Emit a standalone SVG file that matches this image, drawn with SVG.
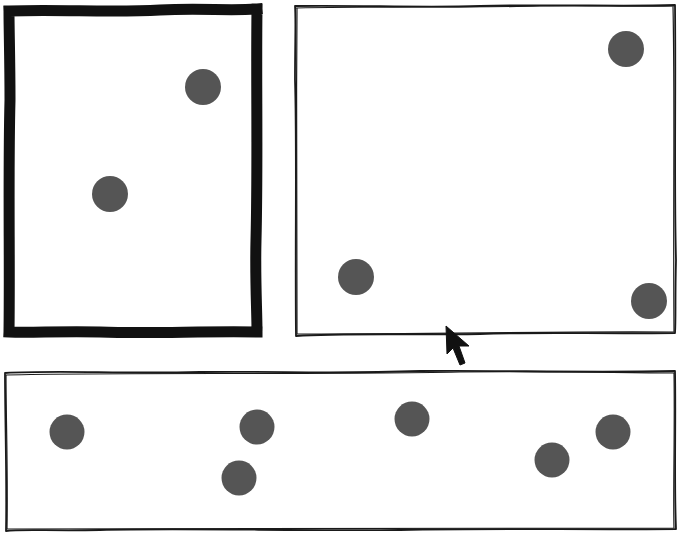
<svg xmlns="http://www.w3.org/2000/svg" width="677" height="536" viewBox="0 0 677 536">
<style>
.thin{fill:none;stroke:#1a1a1a;stroke-width:1.8;stroke-linejoin:round;stroke-linecap:round}
.thin2{fill:none;stroke:#1a1a1a;stroke-width:1.2;stroke-linejoin:round;stroke-linecap:round}
.thick{fill:none;stroke:#111;stroke-width:11;stroke-linejoin:miter;stroke-linecap:square}
.dot{fill:#555}
</style>
<rect width="677" height="536" fill="#fff"/>
<g id="panel-left">
<path class="thick" d="M9,11 C60,9 110,13 160,10 C200,8 230,11 257,9 M257,9 C256,80 258,160 256,240 C255,280 257,310 257,332 M257,332 C200,331 150,334 100,332 C60,331 30,333 9,332 M9,332 C10,260 8,180 10,100 C10,60 9,30 9,11"/>
<circle class="dot" cx="203" cy="87" r="18"/>
<circle class="dot" cx="110" cy="194" r="18"/>
</g>
<g id="panel-right">
<path class="thin" d="M295,6 C360,5 420,8 480,6 C560,4 620,7 675,5 M675,5 C676,90 674,180 676,260 C675,300 676,320 675,333 M675,333 C600,334 540,332 480,334 C400,335 340,333 296,336 M296,336 C295,250 297,150 295,80 C295,40 296,20 295,6"/>
<path class="thin2" d="M296,8 C370,6 450,8 540,6 C600,5 640,7 674,6 M673,6 C675,100 673,200 674,331 M674,332 C560,331 450,334 297,334 M297,334 C297,240 296,120 297,8"/>
<circle class="dot" cx="626" cy="49" r="18"/>
<circle class="dot" cx="356" cy="277" r="18"/>
<circle class="dot" cx="649" cy="301" r="18"/>
</g>
<g id="panel-bottom">
<path class="thin" d="M5,373 C60,370 120,374 200,372 C280,371 330,374 420,371 C500,370 580,373 675,371 M675,371 C676,420 674,480 676,529 M676,529 C580,530 500,528 400,530 C300,531 180,528 100,530 C50,531 20,529 6,531 M6,531 C7,480 5,420 5,373"/>
<path class="thin2" d="M6,375 C120,372 300,375 460,372 C560,371 620,373 674,373 M674,373 C675,430 673,490 674,528 M674,528 C500,527 300,530 7,529 M7,529 C8,470 6,420 6,375"/>
<circle class="dot" cx="67" cy="432" r="17.5"/>
<circle class="dot" cx="257" cy="427" r="17.5"/>
<circle class="dot" cx="239" cy="478" r="17.5"/>
<circle class="dot" cx="412" cy="419" r="17.5"/>
<circle class="dot" cx="552" cy="460" r="17.5"/>
<circle class="dot" cx="613" cy="432" r="17.5"/>
</g>
<g id="cursor">
<polygon points="446,326 447,354 453,348 460,365 465,363 459,346 469,346" fill="#111" stroke="#111" stroke-width="1" stroke-linejoin="round"/>
</g>
</svg>
